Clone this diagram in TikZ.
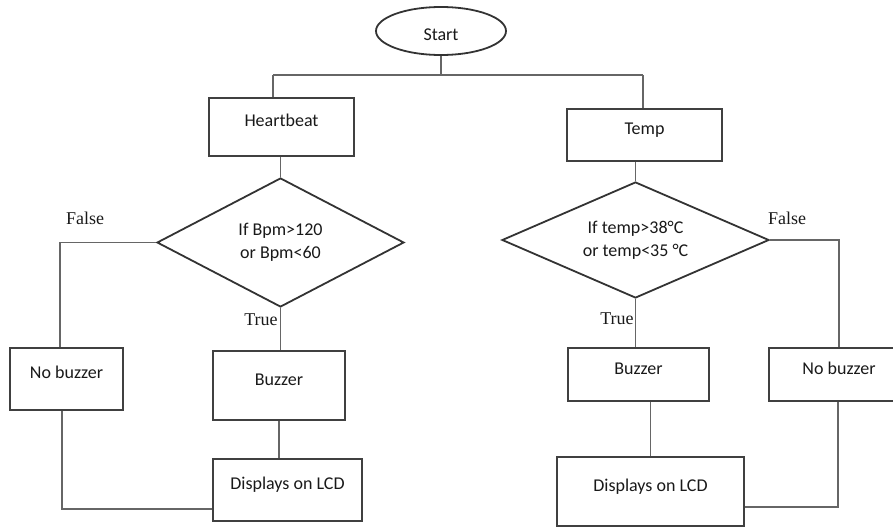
\documentclass[tikz,border=0pt]{standalone}
\usepackage{fontspec}
\setmainfont{Carlito}
\newfontfamily\timesfont{Liberation Serif}
\usetikzlibrary{shapes.geometric}

\begin{document}
\begin{tikzpicture}
  [x=1pt, y=-1pt,
   every node/.style={font=\fontsize{18}{23}\selectfont, text=black!90},
   box/.style={draw=black!75, line width=1.8pt, inner sep=0pt,
       text height=13pt, text depth=14pt},
   decision/.style={diamond, aspect=2.3, draw=black!80, line width=1.8pt,
       inner sep=0pt, align=center},
   term/.style={ellipse, draw=black!80, line width=1.8pt, inner sep=0pt,
       text height=20pt, text depth=0pt},
   tag/.style={font=\timesfont\fontsize{18}{22}\selectfont},
   conn/.style={draw=black!60, line width=1.2pt},
  ]
  \useasboundingbox (0,0) rectangle (893,527);

  % start and the two sensors
  \node[term, minimum width=130pt, minimum height=48pt] (start) at (441,31) {Start};
  \node[box, minimum width=145pt, minimum height=58pt] (heart) at (281.5,127) {Heartbeat};
  \node[box, minimum width=155pt, minimum height=52pt] (temp) at (644.5,135) {Temp};

  % checks
  \node[decision, minimum width=247pt, minimum height=129pt] (bpm) at (280.5,242.5)
       {If Bpm>120\\or Bpm<60};
  \node[decision, minimum width=267pt, minimum height=116pt] (tmp) at (635.5,240)
       {If temp>38°C\\or temp<35 °C};

  % outputs
  \node[box, minimum width=113pt, minimum height=62pt] (nobuzA) at (66.5,379) {No buzzer};
  \node[box, minimum width=132pt, minimum height=69pt] (buzA) at (279,385.5) {Buzzer};
  \node[box, minimum width=149pt, minimum height=62pt] (lcdA) at (287.5,490) {Displays on LCD};
  \node[box, minimum width=141pt, minimum height=53pt] (buzB) at (638.5,374.5) {Buzzer};
  \node[box, minimum width=187pt, minimum height=69pt] (lcdB) at (650.5,491.5) {Displays on LCD};
  \node[box, minimum width=140pt, minimum height=53pt] (nobuzB) at (839,374.5) {No buzzer};

  % branch labels
  \node[tag] (falseA) at (85,218) {False};
  \node[tag] (trueA) at (261,320) {True};
  \node[tag] (falseB) at (787,218) {False};
  \node[tag] (trueB) at (617,319) {True};

  % connectors
  \coordinate (splitL) at (273,75);
  \coordinate (splitR) at (643,75);
  \draw[conn] (start.south) -- (start.south |- splitL);
  \draw[conn] (splitL) -- (splitR);
  \draw[conn] (splitL) -- (splitL |- heart.north);
  \draw[conn] (splitR) -- (splitR |- temp.north);
  \draw[conn] (heart.south -| bpm.north) -- (bpm.north);
  \draw[conn] (temp.south -| tmp.north) -- (tmp.north);

  \coordinate (falseL) at (60,242.5);
  \draw[conn] (bpm.west) -- (falseL) -- (falseL |- nobuzA.north);
  \draw[conn] (bpm.south) -- (bpm.south |- buzA.north);
  \draw[conn] (buzA.south) -- (buzA.south |- lcdA.north);
  \coordinate (backL) at (62,509);
  \draw[conn] (nobuzA.south -| backL) -- (backL) -- (backL -| lcdA.west);

  \coordinate (falseR) at (839,240);
  \draw[conn] (tmp.east) -- (falseR) -- (falseR |- nobuzB.north);
  \draw[conn] (tmp.south) -- (tmp.south |- buzB.north);
  \draw[conn] (lcdB.north |- buzB.south) -- (lcdB.north);
  \coordinate (backR) at (838,507);
  \draw[conn] (nobuzB.south -| backR) -- (backR) -- (backR -| lcdB.east);
\end{tikzpicture}
\end{document}
